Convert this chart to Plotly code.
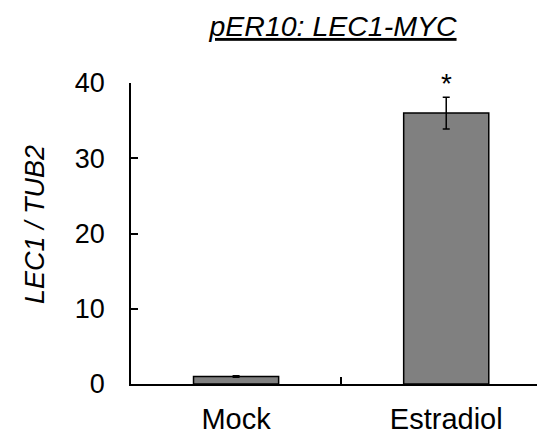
import plotly.graph_objects as go

categories = ["Mock", "Estradiol"]
values = [1.0, 36.0]
errors = [0.1, 2.1]
significance = ["", "*"]
y_ticks = [0, 10, 20, 30, 40]

FONT = "Liberation Sans, Arial, sans-serif"

# page body has an 8px default margin; figure is sized to fill the rest of the 545x434 window
W, H = 537, 426
L, R, T, B = 123, 0, 75, 50

fig = go.Figure()
fig.add_trace(go.Bar(
    x=categories, y=values,
    width=0.405,
    marker=dict(color="#808080", line=dict(color="black", width=1.5)),
    error_y=dict(type="data", array=errors, visible=True, color="black", thickness=1.5, width=3.5),
    showlegend=False,
))

for c, v, e, s in zip(categories, values, errors, significance):
    if s:
        fig.add_annotation(x=c, y=v + e, text=s, showarrow=False, yanchor="bottom",
                           yshift=-4, font=dict(family=FONT, size=28, color="black"))

fig.add_annotation(text="<i>LEC1 / TUB2</i>", textangle=-90, showarrow=False,
                   xref="paper", yref="paper", x=(27 - L) / (W - L - R), y=(H - B - 217) / (H - T - B),
                   xanchor="center", yanchor="middle",
                   font=dict(family=FONT, size=27, color="black"))

fig.update_layout(
    width=W, height=H,
    margin=dict(l=L, r=R, t=T, b=B, pad=0),
    paper_bgcolor="white", plot_bgcolor="white",
    title=dict(text="<u><i>pER10: LEC1-MYC</i></u>", x=325/W, xanchor="center",
               y=1 - 18/H, yanchor="middle", xref="container", yref="container",
               font=dict(family=FONT, size=28.5, color="black")),
    font=dict(family=FONT, color="black"),
)
fig.update_xaxes(
    type="category", range=[-0.5, 1.47],
    showline=True, linecolor="black", linewidth=1.5,
    ticks="inside", tickson="boundaries", ticklen=7, tickwidth=1.5, tickcolor="black",
    tickfont=dict(family=FONT, size=29, color="black"),
    ticklabelstandoff=8,
    showgrid=False, zeroline=False, automargin=False,
)
fig.update_yaxes(
    range=[0, 40], tickvals=y_ticks,
    showline=True, linecolor="black", linewidth=1.5,
    ticks="inside", ticklen=7, tickwidth=1.5, tickcolor="black",
    tickfont=dict(family=FONT, size=27, color="black"),
    ticklabelstandoff=19,
    showgrid=False, zeroline=False, automargin=False,
)

fig.write_html("out.html")
